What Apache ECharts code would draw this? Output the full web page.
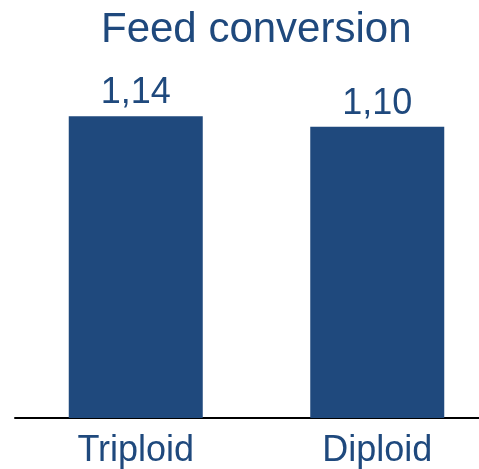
<!DOCTYPE html>
<html>
<head>
<meta charset="utf-8">
<script src="https://cdn.jsdelivr.net/npm/echarts@6/dist/echarts.min.js"></script>
<style>
  html, body { margin: 0; padding: 0; background: #fff; overflow: hidden; }
  /* drawing surface is a little wider than the window; the right edge is cut off */
  #chart { width: 498px; height: 469px; }
</style>
</head>
<body>
<div id="chart"></div>
<script>
// Feed conversion ratio per fish type
const categories = ['Triploid', 'Diploid'];
const feedConversion = [1.14, 1.10];

const BLUE = '#1F497D';
const FONT = '"Liberation Sans", Arial, sans-serif';

const chart = echarts.init(document.getElementById('chart'));
chart.setOption({
  animation: false,
  title: {
    text: 'Feed conversion',
    left: 96,
    top: 4,
    textStyle: { color: BLUE, fontSize: 42, fontWeight: 'normal', fontFamily: FONT }
  },
  grid: { left: 15, right: 0, top: 21, bottom: 51 },
  xAxis: {
    type: 'category',
    data: categories,
    axisLine: { show: true, lineStyle: { color: '#000', width: 2 } },
    axisTick: { show: false },
    axisLabel: { color: BLUE, fontSize: 36, fontFamily: FONT, margin: 15 }
  },
  yAxis: {
    type: 'value',
    min: 0,
    max: 1.5,
    show: false,
    splitLine: { show: false }
  },
  series: [{
    type: 'bar',
    data: feedConversion,
    barWidth: 134,
    itemStyle: { color: BLUE },
    label: {
      show: true,
      position: 'top',
      distance: 5,
      color: BLUE,
      fontSize: 36,
      fontFamily: FONT,
      formatter: p => p.value.toFixed(2).replace('.', ',')
    }
  }]
});
</script>
</body>
</html>
